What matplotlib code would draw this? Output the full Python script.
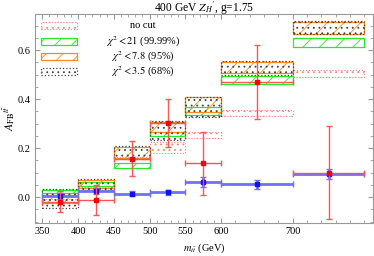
import matplotlib
matplotlib.use("Agg")
import matplotlib.pyplot as plt
from matplotlib.patches import Rectangle
import numpy as np

# bins in m_tt (GeV)
bin_lo = [350, 400, 450, 500, 550, 600, 700]
bin_hi = [400, 450, 500, 550, 600, 700, 800]

# data points
red_y = [-0.02, -0.012, 0.157, 0.303, 0.137, 0.47, 0.10]
red_err = [0.043, 0.06, 0.072, 0.097, 0.128, 0.15, 0.19]
blue_y = [0.003, 0.025, 0.013, 0.019, 0.062, 0.052, 0.093]
blue_err = [0.012, 0.012, 0.010, 0.010, 0.020, 0.018, 0.020]

# prediction bands (low, high) per bin
nocut_lo = [-0.02, 0.03, 0.155, 0.18, 0.24, 0.33, 0.49]
nocut_hi = [-0.01, 0.04, 0.165, 0.225, 0.265, 0.355, 0.52]
chi21_lo = [0.015, 0.045, 0.118, 0.25, 0.335, 0.461, 0.614]
chi21_hi = [0.03, 0.06, 0.14, 0.265, 0.367, 0.494, 0.65]
chi78_lo = [-0.025, 0.035, 0.16, 0.267, 0.348, 0.505, 0.664]
chi78_hi = [0.01, 0.07, 0.205, 0.307, 0.407, 0.55, 0.713]
chi35_lo = [-0.045, 0.028, 0.155, 0.233, 0.325, 0.50, 0.664]
chi35_hi = [0.033, 0.075, 0.21, 0.31, 0.41, 0.555, 0.72]

legend_labels = ["no cut", r"$\chi^2 < 21$ (99.99%)", r"$\chi^2 < 7.8$ (95%)", r"$\chi^2 < 3.5$ (68%)"]
xticks = [350, 400, 450, 500, 550, 600, 700]

plt.rcParams["font.family"] = ["Liberation Serif", "DejaVu Serif"]
plt.rcParams["mathtext.fontset"] = "stix"
plt.rcParams["hatch.linewidth"] = 0.6

PINK = "#ff8080"
GREEN = "#22ee22"
ORANGE = "#ff8c1a"
BLACK = "#444444"

styles = [
    dict(edgecolor=PINK, hatch="...", linestyle=":", linewidth=0.8),
    dict(edgecolor=GREEN, hatch="//", linestyle="-", linewidth=0.9),
    dict(edgecolor=ORANGE, hatch="//", linestyle="-", linewidth=0.9),
    dict(edgecolor=BLACK, hatch="...", linestyle=":", linewidth=0.9),
]
bands = [(nocut_lo, nocut_hi), (chi21_lo, chi21_hi), (chi78_lo, chi78_hi), (chi35_lo, chi35_hi)]

fig = plt.figure(figsize=(3.74, 2.56), dpi=100)
ax = fig.add_axes([0.094, 0.129, 0.903, 0.816])

for (lo, hi), st in zip(bands, styles):
    for x0, x1, y0, y1 in zip(bin_lo, bin_hi, lo, hi):
        ax.add_patch(Rectangle((x0, y0), x1 - x0, y1 - y0, facecolor="none", zorder=2, **st))

xc = (np.array(bin_lo) + np.array(bin_hi)) / 2
xe = (np.array(bin_hi) - np.array(bin_lo)) / 2

ax.errorbar(xc, blue_y, xerr=xe, yerr=blue_err, fmt="s", color="#1010ff", ecolor="#7070ff",
            elinewidth=2.0, capsize=2.5, capthick=1.0, markersize=3, zorder=4)
ax.errorbar(xc, red_y, xerr=xe, yerr=red_err, fmt="s", color="#ff0000", ecolor="#ff5555",
            elinewidth=1.0, capsize=2.5, capthick=1.0, markersize=3, zorder=5)

# legend drawn by hand to match layout
leg_y = [0.928, 0.852, 0.780, 0.708]
for st, y, lab in zip(styles, leg_y, legend_labels):
    ax.add_patch(Rectangle((0.018, y), 0.106, 0.034, transform=ax.transAxes,
                           facecolor="none", zorder=3, **st))
    ax.text(0.32, y + 0.017, lab, transform=ax.transAxes, ha="center", va="center", fontsize=7.5)

ax.set_xlim(340, 812)
ax.set_ylim(-0.106, 0.747)
ax.set_xticks(xticks)
ax.set_yticks([0.0, 0.2, 0.4, 0.6])
ax.set_yticklabels(["0.0", "0.2", "0.4", "0.6"])
ax.set_xticks([360, 370, 380, 390, 410, 420, 430, 440, 460, 470, 480, 490, 510, 520, 530, 540,
               560, 570, 580, 590, 620, 640, 660, 680, 720, 740, 760, 780, 800], minor=True)
ax.set_yticks([-0.1, -0.05, 0.05, 0.1, 0.15, 0.25, 0.3, 0.35, 0.45, 0.5, 0.55, 0.65, 0.7], minor=True)
ax.tick_params(which="both", direction="in", top=True, right=True, color="#999999", labelsize=7.5, pad=3)
ax.tick_params(which="major", length=3.5)
ax.tick_params(which="minor", length=2)
for s in ax.spines.values():
    s.set_color("#999999")
    s.set_linewidth(0.8)

ax.set_xlabel(r"$m_{t\bar{t}}$ (GeV)", fontsize=7.5, labelpad=4)
ax.set_ylabel(r"$A_{\rm FB}{}^{t\bar{t}}$", fontsize=8.5, labelpad=1)
fig.text(0.545, 0.955, r"400 GeV $Z_H{}'$, g=1.75", fontsize=8.3, ha="center", va="baseline")

fig.savefig("out.png", dpi=100)
